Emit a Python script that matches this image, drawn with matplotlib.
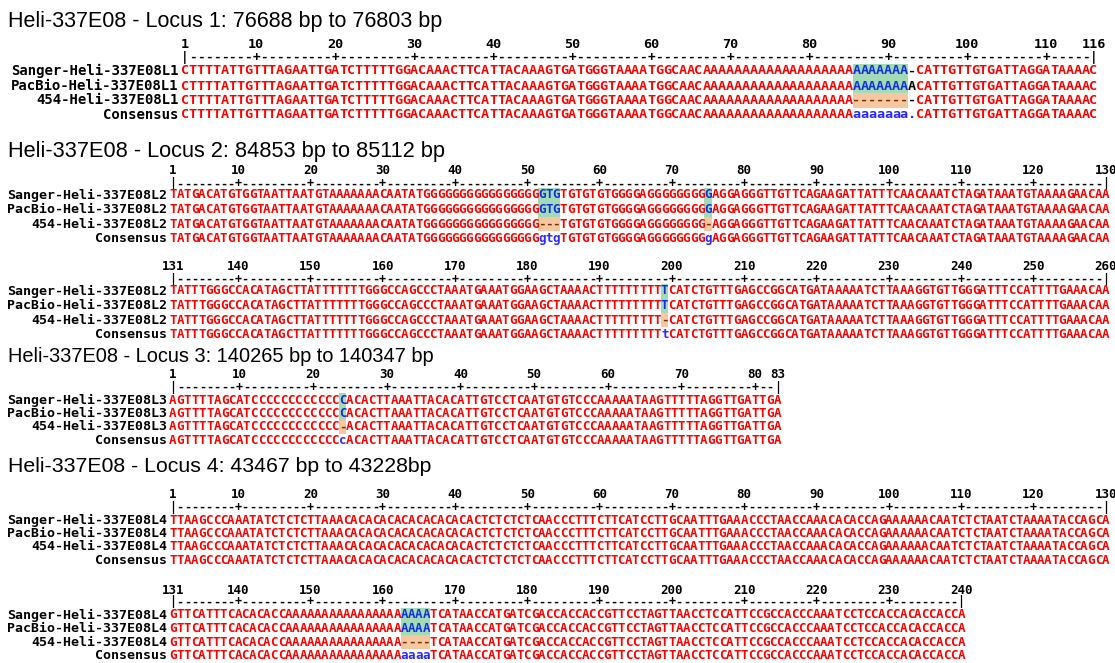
import matplotlib

matplotlib.use("Agg")
import matplotlib.pyplot as plt
from matplotlib.patches import Rectangle

W, H = 1115, 663

# ---------------- data ----------------
titles = [
    "Heli-337E08 - Locus 1: 76688 bp to 76803 bp",
    "Heli-337E08 - Locus 2: 84853 bp to 85112 bp",
    "Heli-337E08 - Locus 3: 140265 bp to 140347 bp",
    "Heli-337E08 - Locus 4: 43467 bp to 43228bp",
]
row_tags = ["Sanger-Heli-337E08", "PacBio-Heli-337E08", "454-Heli-337E08"]

# locus 1, columns 1-116
l1_sanger = ("CTTTTATTGTTTAGAATTGATCTTTTTGGACAAACTTCATTACAAAGTGATGGGTAAAAT"
             "GGCAACAAAAAAAAAAAAAAAAAAA" "AAAAAAA" "-" "CATTGTTGTGATTAGGATAAAAC")
l1_pacbio = ("CTTTTATTGTTTAGAATTGATCTTTTTGGACAAACTTCATTACAAAGTGATGGGTAAAAT"
             "GGCAACAAAAAAAAAAAAAAAAAAA" "AAAAAAA" "A" "CATTGTTGTGATTAGGATAAAAC")
l1_454 = ("CTTTTATTGTTTAGAATTGATCTTTTTGGACAAACTTCATTACAAAGTGATGGGTAAAAT"
          "GGCAACAAAAAAAAAAAAAAAAAAA" "-------" "-" "CATTGTTGTGATTAGGATAAAAC")
l1_cons = ("CTTTTATTGTTTAGAATTGATCTTTTTGGACAAACTTCATTACAAAGTGATGGGTAAAAT"
           "GGCAACAAAAAAAAAAAAAAAAAAA" "aaaaaaa" "." "CATTGTTGTGATTAGGATAAAAC")
l1_marked = [(86, 92)]

# locus 2, columns 1-130
l2a_sanger = ("TATGACATGTGGTAATTAATGTAAAAAAACAATATGGGGGGGGGGGGGGGG" "GTG"
              "TGTGTGTGGGGAGGGGGGGG" "G" "AGGAGGGTTGTTCAGAAGATTATTTCAACAAATCTAGATAAATGTAAAAGAACAA")
l2a_pacbio = l2a_sanger
l2a_454 = ("TATGACATGTGGTAATTAATGTAAAAAAACAATATGGGGGGGGGGGGGGGG" "---"
           "TGTGTGTGGGGAGGGGGGGG" "-" "AGGAGGGTTGTTCAGAAGATTATTTCAACAAATCTAGATAAATGTAAAAGAACAA")
l2a_cons = ("TATGACATGTGGTAATTAATGTAAAAAAACAATATGGGGGGGGGGGGGGGG" "gtg"
            "TGTGTGTGGGGAGGGGGGGG" "g" "AGGAGGGTTGTTCAGAAGATTATTTCAACAAATCTAGATAAATGTAAAAGAACAA")
l2a_marked = [(52, 54), (75, 75)]

# locus 2, columns 131-260
l2b_sanger = ("TATTTGGGCCACATAGCTTATTTTTTTGGGCCAGCCCTAAATGAAATGGAAGCTAAAACTTTTTTTTT" "T"
              "CATCTGTTTGAGCCGGCATGATAAAAATCTTAAAGGTGTTGGGATTTCCATTTTGAAACAA")
l2b_pacbio = l2b_sanger
l2b_454 = ("TATTTGGGCCACATAGCTTATTTTTTTGGGCCAGCCCTAAATGAAATGGAAGCTAAAACTTTTTTTTT" "-"
           "CATCTGTTTGAGCCGGCATGATAAAAATCTTAAAGGTGTTGGGATTTCCATTTTGAAACAA")
l2b_cons = ("TATTTGGGCCACATAGCTTATTTTTTTGGGCCAGCCCTAAATGAAATGGAAGCTAAAACTTTTTTTTT" "t"
            "CATCTGTTTGAGCCGGCATGATAAAAATCTTAAAGGTGTTGGGATTTCCATTTTGAAACAA")
l2b_marked = [(199, 199)]

# locus 3, columns 1-83
l3_sanger = "AGTTTTAGCATCCCCCCCCCCCC" "C" "ACACTTAAATTACACATTGTCCTCAATGTGTCCCAAAAATAAGTTTTTAGGTTGATTGA"
l3_pacbio = l3_sanger
l3_454 = "AGTTTTAGCATCCCCCCCCCCCC" "-" "ACACTTAAATTACACATTGTCCTCAATGTGTCCCAAAAATAAGTTTTTAGGTTGATTGA"
l3_cons = "AGTTTTAGCATCCCCCCCCCCCC" "c" "ACACTTAAATTACACATTGTCCTCAATGTGTCCCAAAAATAAGTTTTTAGGTTGATTGA"
l3_marked = [(24, 24)]

# locus 4, columns 1-130
l4a_sanger = ("TTAAGCCCAAATATCTCTCTTAAACACACACACACACACACACTCTCTCTCAACCCTTTCTTC"
              "ATCCTTGCAATTTGAAACCCTAACCAAACACACCAGAAAAAACAATCTCTAATCTAAAATACCAGCA")
l4a_pacbio = l4a_sanger
l4a_454 = l4a_sanger
l4a_cons = l4a_sanger
l4a_marked = []

# locus 4, columns 131-240
l4b_sanger = ("GTTCATTTCACACACCAAAAAAAAAAAAAAAA" "AAAA"
              "TCATAACCATGATCGACCACCACCGTTCCTAGTTAACCTCCATTCCGCCACCCAAATCCTCCACCACACCACCA")
l4b_pacbio = l4b_sanger
l4b_454 = ("GTTCATTTCACACACCAAAAAAAAAAAAAAAA" "----"
           "TCATAACCATGATCGACCACCACCGTTCCTAGTTAACCTCCATTCCGCCACCCAAATCCTCCACCACACCACCA")
l4b_cons = ("GTTCATTTCACACACCAAAAAAAAAAAAAAAA" "aaaa"
            "TCATAACCATGATCGACCACCACCGTTCCTAGTTAACCTCCATTCCGCCACCCAAATCCTCCACCACACCACCA")
l4b_marked = [(163, 166)]

# ---------------- layout (pixels) ----------------
title_y = [22, 152, 357, 467]
title_size = [15.5, 15.7, 14.4, 15.3]

blocks = [
    dict(locus=1, first=1, rows=[l1_sanger, l1_pacbio, l1_454, l1_cons], marked=l1_marked,
         x0=185, cw=7.9, y_num=44, y_ruler=57, ys=[71, 86, 100.5, 115], fs=9.7, nfs=10.1),
    dict(locus=2, first=1, rows=[l2a_sanger, l2a_pacbio, l2a_454, l2a_cons], marked=l2a_marked,
         x0=173, cw=7.23, y_num=170, y_ruler=184, ys=[195, 209.5, 224, 238.5], fs=9.0, nfs=9.5),
    dict(locus=2, first=131, rows=[l2b_sanger, l2b_pacbio, l2b_454, l2b_cons], marked=l2b_marked,
         x0=173, cw=7.23, y_num=266, y_ruler=279, ys=[291, 305.5, 320, 334.5], fs=9.0, nfs=9.5),
    dict(locus=3, first=1, rows=[l3_sanger, l3_pacbio, l3_454, l3_cons], marked=l3_marked,
         x0=173, cw=7.37, y_num=375, y_ruler=387, ys=[400, 413.5, 427, 440.5], fs=9.0, nfs=9.5),
    dict(locus=4, first=1, rows=[l4a_sanger, l4a_pacbio, l4a_454, l4a_cons], marked=l4a_marked,
         x0=173, cw=7.23, y_num=494, y_ruler=507, ys=[520, 533.5, 547, 560.5], fs=9.0, nfs=9.5),
    dict(locus=4, first=131, rows=[l4b_sanger, l4b_pacbio, l4b_454, l4b_cons], marked=l4b_marked,
         x0=173, cw=7.23, y_num=590, y_ruler=602, ys=[615, 628.5, 642, 655.5], fs=9.0, nfs=9.5),
]

RED = "#ff0000"
BLUE = "#1030e0"
CONS_BLUE = "#2a2aff"
GREEN_BG = "#a3dbb6"
ORANGE_BG = "#f6c7a0"
GAP_DARK = "#6b3300"
MONO = "DejaVu Sans Mono"

fig = plt.figure(figsize=(W / 100, H / 100), dpi=100)

for t, y, s in zip(titles, title_y, title_size):
    fig.text(8 / W, 1 - y / H, t, fontsize=s, family="Liberation Sans", va="center", ha="left")

for b in blocks:
    rows = b["rows"]
    first = b["first"]
    last = first + len(rows[0]) - 1
    cw = b["cw"]
    left = b["x0"] - cw / 2
    right = left + len(rows[0]) * cw
    top = b["y_num"] - 10
    bottom = b["ys"][-1] + 9
    ax = fig.add_axes([left / W, 1 - bottom / H, (right - left) / W, (bottom - top) / H])
    ax.set_xlim(first - 0.5, last + 0.5)
    ax.set_ylim(bottom, top)
    ax.axis("off")

    fs = b["fs"]
    ys = b["ys"]
    half = (ys[1] - ys[0]) / 2

    # highlighted columns
    marked_cols = set()
    for c0, c1 in b["marked"]:
        marked_cols.update(range(c0, c1 + 1))
        ax.add_patch(Rectangle((c0 - 0.5, ys[0] - half), c1 - c0 + 1, ys[1] - ys[0] + 2 * half,
                               facecolor=GREEN_BG, edgecolor="none", zorder=0))
        ax.add_patch(Rectangle((c0 - 0.5, ys[2] - half), c1 - c0 + 1, 2 * half,
                               facecolor=ORANGE_BG, edgecolor="none", zorder=0))

    # ruler
    for col in range(first, last + 1):
        if col in (first, last):
            ch = "|"
        elif col % 10 == 0:
            ch = "+"
        else:
            ch = "-"
        ax.text(col, b["y_ruler"], ch, ha="center", va="center", fontsize=fs - 0.5,
                family=MONO, weight="bold", color="black")
    nums = [first] + [c for c in range(first + 1, last + 1) if c % 10 == 0]
    if last % 10:
        nums.append(last)
    for n in nums:
        ax.text(n, b["y_num"], str(n), ha="center", va="center", fontsize=fs,
                family=MONO, weight="bold", color="black")

    # row names
    names = [tag + "L%d" % b["locus"] for tag in row_tags] + ["Consensus"]
    for name, y in zip(names, ys):
        ax.text(first - 0.5 - 0.3, y, name, ha="right", va="center", fontsize=b["nfs"],
                family=MONO, weight="bold", color="black", clip_on=False)

    # sequences
    for r, seq in enumerate(rows):
        for i, ch in enumerate(seq):
            col = first + i
            agree = rows[0][i] == rows[1][i] == rows[2][i]
            if r == 3:
                color = CONS_BLUE if (ch.islower() or ch == ".") else RED
            elif col in marked_cols:
                color = GAP_DARK if ch == "-" else BLUE
            elif ch == "-" or not agree:
                color = "black"
            else:
                color = RED
            ax.text(col, ys[r], ch, ha="center", va="center", fontsize=fs,
                    family=MONO, weight="bold", color=color)

fig.savefig("out.png", dpi=100)
